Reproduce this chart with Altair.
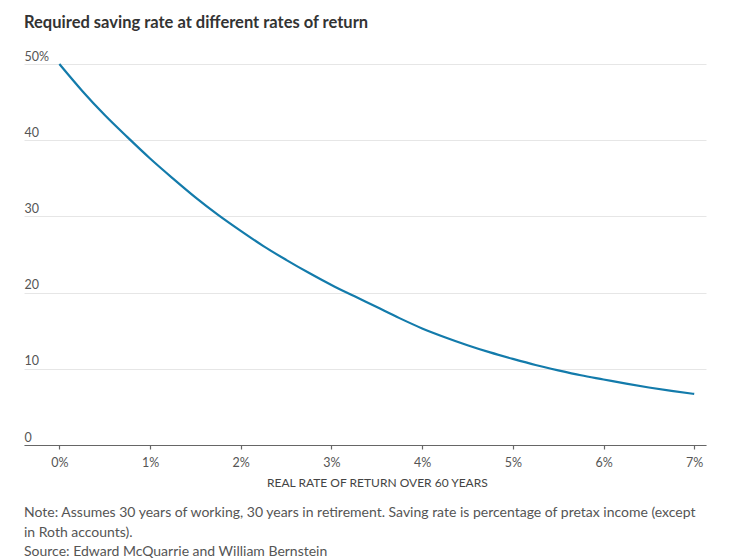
import altair as alt
import pandas as pd

# Data
rate = [0, 0.25, 0.5, 0.75, 1.0, 1.25, 1.5, 1.75, 2.0, 2.25, 2.5, 2.75, 3.0,
        3.25, 3.5, 3.75, 4.0, 4.25, 4.5, 4.75, 5.0, 5.25, 5.5, 5.75, 6.0,
        6.25, 6.5, 6.75, 7.0]
saving = [50.0, 46.5, 43.3, 40.4, 37.6, 35.0, 32.5, 30.2, 28.1, 26.1, 24.3,
          22.6, 21.0, 19.55, 18.1, 16.65, 15.3, 14.15, 13.1, 12.15, 11.3, 10.5,
          9.8, 9.15, 8.6, 8.05, 7.55, 7.1, 6.7]
x_ticks = [0, 1, 2, 3, 4, 5, 6, 7]
y_ticks = [0, 10, 20, 30, 40, 50]
notes = [
    "Note: Assumes 30 years of working, 30 years in retirement. Saving rate is percentage of pretax income (except",
    "in Roth accounts).",
    "Source: Edward McQuarrie and William Bernstein",
]

df = pd.DataFrame({"rate": rate, "saving": saving})
notes_df = pd.DataFrame({"line": notes, "i": list(range(len(notes)))})

W, H = 682, 381
FONT = "Lato"

line = alt.Chart(df).mark_line(color="#137bab", strokeWidth=2.2, interpolate="monotone").encode(
    x=alt.X("rate:Q",
            scale=alt.Scale(domain=[-0.39, 7.13], nice=False, zero=False),
            axis=alt.Axis(values=x_ticks, labelExpr="datum.value + '%'",
                          title="REAL RATE OF RETURN OVER 60 YEARS",
                          titleX=(59.5 + 694.3) / 2 - 24, titleAlign="center",
                          titleY=41, titleBaseline="alphabetic",
                          grid=False, domainColor="#666", domainWidth=1.2,
                          tickColor="#666", tickSize=4, tickWidth=1.2,
                          labelPadding=7, labelColor="#555", labelFontSize=12.5,
                          titleFontWeight="normal", titleColor="#444",
                          titleFontSize=12, labelFont=FONT, titleFont=FONT)),
    y=alt.Y("saving:Q",
            scale=alt.Scale(domain=[0, 50], nice=False),
            axis=alt.Axis(values=y_ticks,
                          labelExpr="datum.value == 50 ? '50%' : datum.label",
                          title=None, domain=False, ticks=False, tickSize=0,
                          labelAlign="left", labelBaseline="alphabetic",
                          labelPadding=0, labelOffset=-4,
                          labelColor="#555", labelFontSize=12.5, labelFont=FONT,
                          gridColor="#e6e6e6", gridWidth=1)),
)

note_text = alt.Chart(notes_df).mark_text(
    align="left", baseline="alphabetic", font=FONT, fontSize=14, color="#555"
).encode(
    x=alt.value(0),
    y=alt.Y("i:Q", scale=alt.Scale(domain=[0, 2], range=[H + 72, H + 111]), axis=None),
    text="line:N",
)

chart = alt.layer(line, note_text).resolve_scale(y="independent").properties(
    width=W, height=H,
    title=alt.TitleParams(
        "Required saving rate at different rates of return",
        anchor="start", frame="group", fontSize=16.5, font=FONT,
        fontWeight="bold", color="#333", offset=19,
    ),
    padding={"left": 16, "top": 6, "right": 5, "bottom": 5},
).configure_view(stroke=None)

chart.save("out.html", embed_options={"renderer": "svg", "actions": False})
